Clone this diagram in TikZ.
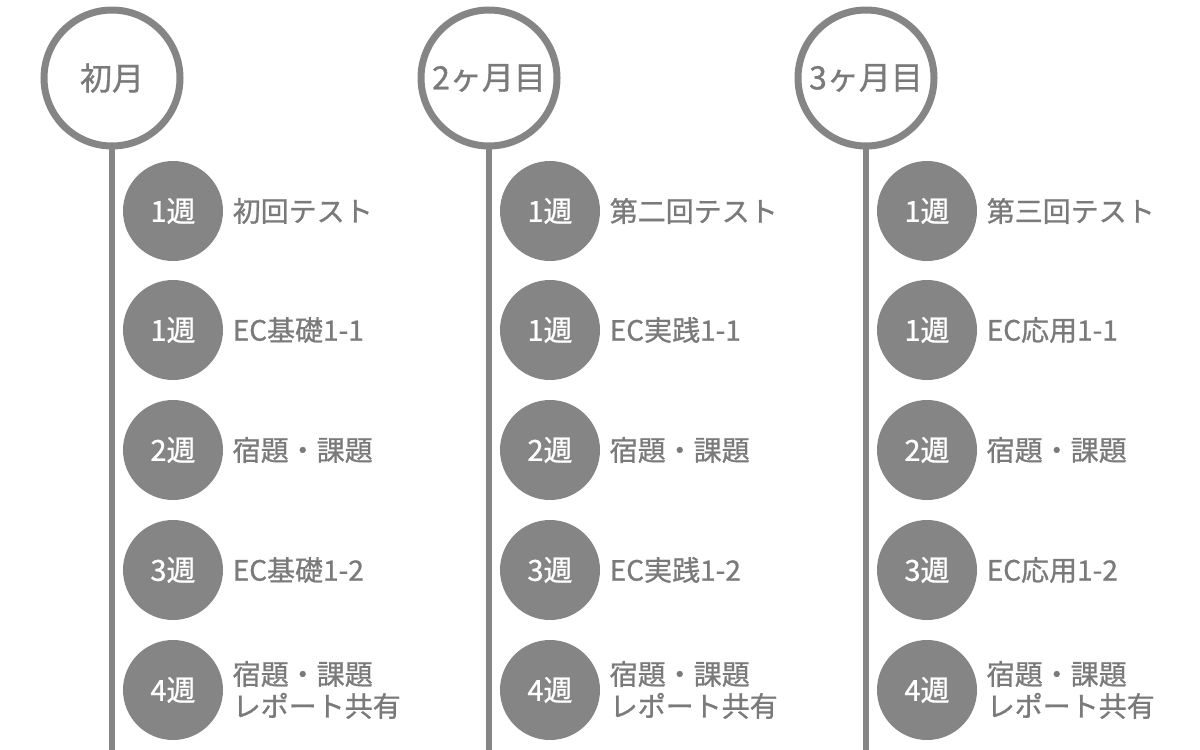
\documentclass[tikz,border=0pt]{standalone}
\usepackage{fontspec}
\setmainfont{Noto Sans CJK JP}[FakeBold=0.9]
\definecolor{tlgray}{HTML}{858585}
\definecolor{txgray}{HTML}{7A7A7A}
\tikzset{
  month/.style={circle, draw=tlgray, line width=7pt, fill=white, minimum size=136pt, inner sep=0pt, text=txgray, font=\fontsize{32}{34}\selectfont},
  week/.style={circle, fill=tlgray, minimum size=100pt, inner sep=0pt, text=white, font=\fontsize{29}{30}\selectfont},
  item/.style={right, align=left, text=txgray, font=\fontsize{28}{32}\selectfont}
}
\begin{document}
\begin{tikzpicture}[x=1pt, y=-1pt]
    \useasboundingbox (0,0) rectangle (1200,750);
    % timelines
    \foreach \cx/\name/\mon in {112/a/初月, 489/b/2ヶ月目, 866/c/3ヶ月目} {
        \coordinate (\name end) at (\cx,750);
        \draw [tlgray, line width=6pt] (\cx,78) -- (\name end);
        \node [month] (\name m) at (\cx,78) {\mon};
    }
    % weeks
    \foreach \name in {a,b,c} {
        \foreach \y/\i/\w in {211/1/1週, 330/2/1週, 450/3/2週, 570/4/3週, 690/5/4週}
            \node [week] (\name w\i) at ([xshift=61pt]\name m.center |- 0,\y) {\w};
    }
    % labels
    \node [item] at ([xshift=6pt]aw1.east) {初回テスト};
    \node [item] at ([xshift=6pt]aw2.east) {EC基礎1-1};
    \node [item] at ([xshift=6pt]aw3.east) {宿題・課題};
    \node [item] at ([xshift=6pt]aw4.east) {EC基礎1-2};
    \node [item] at ([xshift=6pt]aw5.east) {宿題・課題\\レポート共有};
    \node [item] at ([xshift=6pt]bw1.east) {第二回テスト};
    \node [item] at ([xshift=6pt]bw2.east) {EC実践1-1};
    \node [item] at ([xshift=6pt]bw3.east) {宿題・課題};
    \node [item] at ([xshift=6pt]bw4.east) {EC実践1-2};
    \node [item] at ([xshift=6pt]bw5.east) {宿題・課題\\レポート共有};
    \node [item] at ([xshift=6pt]cw1.east) {第三回テスト};
    \node [item] at ([xshift=6pt]cw2.east) {EC応用1-1};
    \node [item] at ([xshift=6pt]cw3.east) {宿題・課題};
    \node [item] at ([xshift=6pt]cw4.east) {EC応用1-2};
    \node [item] at ([xshift=6pt]cw5.east) {宿題・課題\\レポート共有};
\end{tikzpicture}
\end{document}
